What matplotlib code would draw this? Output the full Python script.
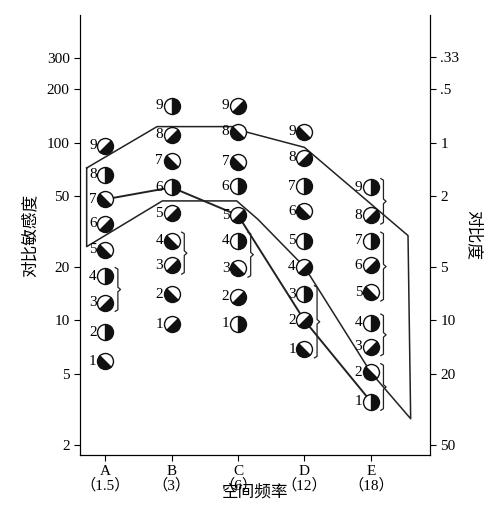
import numpy as np
import matplotlib.pyplot as plt
from matplotlib.markers import MarkerStyle
from matplotlib.transforms import Affine2D
from matplotlib.ticker import NullLocator

plt.rcParams['font.family'] = ['Liberation Serif', 'Noto Sans CJK SC', 'DejaVu Sans']

columns = ["A", "B", "C", "D", "E"]
freqs = ["1.5", "3", "6", "12", "18"]

# sensitivity of each numbered grating (1..9), per column
sens = {
    "A": [5.9, 8.6, 12.6, 17.7, 25, 35, 48, 66, 96],
    "B": [9.5, 14, 20.4, 28, 40, 56, 79, 111, 161],
    "C": [9.6, 13.6, 19.6, 28, 39, 57, 78, 115, 161],
    "D": [6.9, 10, 14, 20, 28, 41, 57, 82, 115],
    "E": [3.5, 5.1, 7.1, 9.7, 14.4, 20.4, 28, 39, 56],
}
# grating orientation: R vertical, S "/" , B "\"
orient = {
    "A": "BRSRBSBRS",
    "B": "SBSBSRBSR",
    "C": "RSBRSRBBS",
    "D": "BSRSRBRSB",
    "E": "RBSRBSRSR",
}
# braces: (column, low grating, high grating)
braces = [("A", 3, 4), ("B", 3, 4), ("C", 3, 4), ("D", 1, 3),
          ("E", 8, 9), ("E", 5, 7), ("E", 3, 4), ("E", 1, 2)]

# threshold lines
mid_x = [0, 1, 2, 3, 4]
mid_y = [48, 56, 39, 10, 3.5]
env_x = [-0.28, 0.78, 1.95, 2.0, 3.0, 4.56, 4.6, 4.0, 3.0, 2.3, 1.98, 0.86, -0.28, -0.28]
env_y = [72, 123, 123, 118, 94, 30, 2.8, 5.1, 20, 37, 47, 47, 26, 72]

left_ticks = [2, 5, 10, 20, 50, 100, 200, 300]
right_ticks = [".33", ".5", "1", "2", "5", "10", "20", "50"]
right_vals = [0.33, 0.5, 1, 2, 5, 10, 20, 50]


def marker_for(code):
    if code == "R":
        return MarkerStyle("o", fillstyle="right")
    if code == "S":
        return MarkerStyle("o", fillstyle="right", transform=Affine2D().rotate_deg(-45))
    return MarkerStyle("o", fillstyle="bottom", transform=Affine2D().rotate_deg(-45))


fig = plt.figure(figsize=(4.88, 5.09), dpi=100)
ax = fig.add_axes([0.164, 0.106, 0.717, 0.864])
ax.set_yscale("log")
ax.set_ylim(1.75, 520)
ax.set_xlim(-0.38, 4.89)

ax.plot(env_x, env_y, color="#222222", lw=1.1, zorder=1)
ax.plot(mid_x, mid_y, color="#222222", lw=1.4, zorder=1)

for i, col in enumerate(columns):
    for k, (v, code) in enumerate(zip(sens[col], orient[col])):
        ax.plot([i], [v], linestyle="none", marker=marker_for(code), markersize=11.5,
                markerfacecolor="#111111", markerfacecoloralt="white",
                markeredgecolor="#111111", markeredgewidth=1.0, zorder=3)
        ax.text(i - 0.13, v, str(k + 1), ha="right", va="center", fontsize=11, zorder=3)

for col, lo, hi in braces:
    i = columns.index(col)
    y0 = sens[col][lo - 1] / 1.12
    y1 = sens[col][hi - 1] * 1.12
    ym = np.sqrt(y0 * y1)
    x0 = i + 0.15
    ax.plot([x0, x0 + 0.04, x0 + 0.04, x0 + 0.08, x0 + 0.04, x0 + 0.04, x0],
            [y0, y0 * 1.02, ym / 1.03, ym, ym * 1.03, y1 / 1.02, y1],
            color="#222222", lw=0.9, zorder=2)

ax.spines["top"].set_visible(False)
ax.set_yticks(left_ticks)
ax.set_yticklabels([str(t) for t in left_ticks], fontsize=11)
ax.yaxis.set_minor_locator(NullLocator())
ax.set_xticks(range(len(columns)))
ax.set_xticklabels([f"{c}\n（{f}）" for c, f in zip(columns, freqs)], fontsize=11, linespacing=1.0)
ax.tick_params(direction="out", length=4)
ax.set_xlabel("空间频率", fontsize=12, family=["Noto Sans CJK SC"])
ax.xaxis.set_label_coords(0.5, -0.085)
ax.xaxis.label.set_va("center")
ax.set_ylabel("对比敏感度", fontsize=12, family=["Noto Sans CJK SC"], labelpad=6)

ax2 = ax.twinx()
ax2.set_yscale("log")
ax2.set_ylim(ax.get_ylim())
ax2.spines["top"].set_visible(False)
ax2.set_yticks([100 / c for c in right_vals])
ax2.set_yticklabels(right_ticks, fontsize=11)
ax2.yaxis.set_minor_locator(NullLocator())
ax2.tick_params(direction="out", length=4)
ax2.set_ylabel("对比度", fontsize=12, family=["Noto Sans CJK SC"], rotation=-90, labelpad=16)

fig.savefig("out.png", dpi=100)
